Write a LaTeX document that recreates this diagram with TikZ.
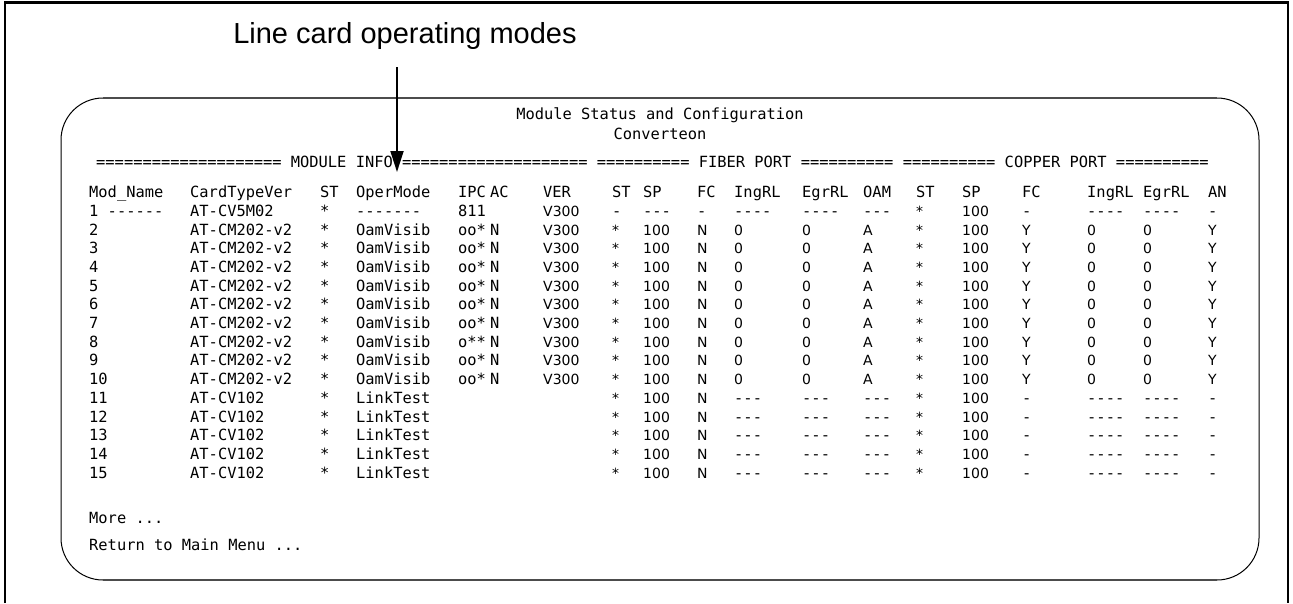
\documentclass[tikz,border=0pt]{standalone}
\usepackage{fontspec}
\setmainfont{Liberation Sans}
\setsansfont{DejaVu Sans}
\setmonofont{DejaVu Sans Mono}
\usepackage{tikz}
\usetikzlibrary{
    arrows.meta,
    calc
}

\def\colx{{89,190,320,356,458,490,543,612,643,697,734,802,863,916,962,1022,1087,1143,1208}}
\newcommand{\dat}[1]{{\fontsize{14}{17}\sffamily #1}}

\begin{document}
\begin{tikzpicture}[x=1pt, y=-1pt,
        cell/.style={anchor=mid west, inner sep=0pt, font=\fontsize{15.4}{18}\ttfamily},
        pointer/.style={line width=1.8pt, -{Triangle[length=21pt, width=13pt]}, shorten <=18pt},
        screen/.style={line width=1pt, draw=black, rounded corners=42pt},
        rim/.style={line width=2.2pt, draw=black!70}]
            \useasboundingbox (0,0) rectangle (1293,603);
            \draw[line width=1.6pt] (5,603) -- (5,2) -- (1288,2) -- (1288,603);
            \draw[line width=3pt] (5,2) -- (1288,2);

            \node[font=\fontsize{29}{33}\selectfont, anchor=base, inner sep=0pt] (title) at (405,43) {Line card operating modes};
            \coordinate (tip) at (397,172);

            \draw[screen] (61,98) rectangle (1259,580);
            \draw[rim] (103,98) -- (1217,98) (103,580) -- (1217,580);

            \node[cell, anchor=mid] (head1) at (660,117) {Module Status and Configuration};
            \node[cell, anchor=mid] (head2) at (660,137) {Converteon};
            \node[cell] (banner) at (96,165) {==================== MODULE INFO ==================== ========== FIBER PORT ========== ========== COPPER PORT ==========};

            % column titles
            \foreach \t [count=\c] in {Mod\_Name, CardTypeVer, ST, OperMode, IPC, AC, VER, ST, SP, FC, IngRL, EgrRL, OAM, ST, SP, FC, IngRL, EgrRL, AN} {
                \pgfmathsetmacro\cx{\colx[\c-1]}
                \node[cell] (h-\c) at (\cx,195) {\t};
            }

            % module rows
            \foreach \t/\c in {1 ------/1, AT-CV5M02/2, */3, -------/4, 811/5, \dat{V300}/7, -/8, ---/9, -/10, ----/11, ----/12, ---/13, \dat{*}/14, \dat{100}/15, -/16, ----/17, ----/18, -/19} {
                \pgfmathsetmacro\cx{\colx[\c-1]}
                \node[cell] (r1-\c) at (\cx,213.7) {\t};
            }
            \foreach \r in {2,...,10} {
                \pgfmathsetmacro\ry{195+18.7*\r}
                \ifnum\r=8 \def\ipc{o**}\else\def\ipc{oo*}\fi
                \foreach \t [count=\c] in {\r, AT-CM202-v2, *, OamVisib, \ipc, N, V300, *, 100, N, 0, 0, A, *, 100, Y, 0, 0, Y} {
                    \pgfmathsetmacro\cx{\colx[\c-1]}
                    \node[cell] (r\r-\c) at (\cx,\ry) {\ifnum\c>6 \dat{\t}\else\t\fi};
                }
            }
            \foreach \r in {11,...,15} {
                \pgfmathsetmacro\ry{195+18.7*\r}
                \foreach \t/\c in {\r/1, AT-CV102/2, */3, LinkTest/4, \dat{*}/8, \dat{100}/9, \dat{N}/10, ---/11, ---/12, ---/13, \dat{*}/14, \dat{100}/15, -/16, ----/17, ----/18, -/19} {
                    \pgfmathsetmacro\cx{\colx[\c-1]}
                    \node[cell] (r\r-\c) at (\cx,\ry) {\t};
                }
            }

            \node[cell] (more) at (89,521) {More ...};
            \node[cell] (back) at (89,548) {Return to Main Menu ...};

            \draw[pointer] (title.south -| tip) -- (tip);
        \end{tikzpicture}
\end{document}
